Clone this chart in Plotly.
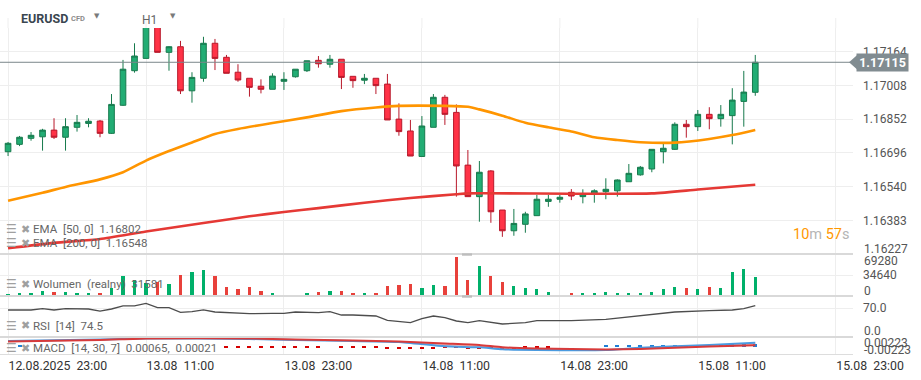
import pandas as pd
import plotly.graph_objects as go
from plotly.subplots import make_subplots

# ---------------- data ----------------
start = pd.Timestamp("2025-08-12 23:00")
n_candles = 66
times = pd.date_range(start, periods=n_candles, freq="h")

opens = [1.16701, 1.16735, 1.16763, 1.16770, 1.16801, 1.16768, 1.16814, 1.16832, 1.16843, 1.16786,
         1.16916, 1.17076, 1.17133, 1.17290, 1.17161, 1.17187, 1.16983, 1.17041, 1.17203, 1.17138,
         1.17069, 1.17041, 1.17004, 1.16990, 1.17027, 1.17048, 1.17076, 1.17124, 1.17106, 1.17129,
         1.17050, 1.17032, 1.17041, 1.17014, 1.16852, 1.16797, 1.16679, 1.16814, 1.16953, 1.16883,
         1.16639, 1.16493, 1.16612, 1.16431, 1.16335, 1.16365, 1.16405, 1.16471, 1.16481, 1.16513,
         1.16493, 1.16508, 1.16516, 1.16520, 1.16562, 1.16594, 1.16621, 1.16701, 1.16712, 1.16828,
         1.16817, 1.16874, 1.16854, 1.16868, 1.16934, 1.16976]
closes = [1.16740, 1.16768, 1.16777, 1.16801, 1.16768, 1.16817, 1.16837, 1.16842, 1.16786, 1.16920,
          1.17083, 1.17144, 1.17290, 1.17161, 1.17187, 1.16983, 1.17045, 1.17203, 1.17133, 1.17064,
          1.17033, 1.16999, 1.16990, 1.17051, 1.17036, 1.17083, 1.17122, 1.17108, 1.17129, 1.17045,
          1.17030, 1.17041, 1.17007, 1.16848, 1.16794, 1.16681, 1.16820, 1.16953, 1.16874, 1.16635,
          1.16493, 1.16606, 1.16423, 1.16335, 1.16369, 1.16413, 1.16481, 1.16481, 1.16490, 1.16496,
          1.16505, 1.16520, 1.16527, 1.16570, 1.16601, 1.16629, 1.16712, 1.16717, 1.16828, 1.16817,
          1.16874, 1.16854, 1.16874, 1.16940, 1.16977, 1.17115]
highs = [1.16746, 1.16774, 1.16792, 1.16807, 1.16856, 1.16856, 1.16871, 1.16856, 1.16848, 1.16968,
         1.17126, 1.17203, 1.17310, 1.17300, 1.17190, 1.17214, 1.17069, 1.17233, 1.17223, 1.17149,
         1.17106, 1.17041, 1.17036, 1.17064, 1.17069, 1.17083, 1.17122, 1.17144, 1.17149, 1.17129,
         1.17050, 1.17061, 1.17041, 1.17061, 1.16925, 1.16848, 1.16866, 1.16968, 1.16964, 1.16920,
         1.16709, 1.16658, 1.16616, 1.16431, 1.16436, 1.16423, 1.16501, 1.16501, 1.16501, 1.16528,
         1.16527, 1.16527, 1.16578, 1.16573, 1.16644, 1.16635, 1.16712, 1.16740, 1.16837, 1.16848,
         1.16894, 1.16907, 1.16917, 1.16995, 1.17075, 1.17149]
lows = [1.16681, 1.16727, 1.16752, 1.16706, 1.16760, 1.16706, 1.16794, 1.16814, 1.16768, 1.16783,
        1.16913, 1.17067, 1.17133, 1.17161, 1.17076, 1.16968, 1.16928, 1.17025, 1.17079, 1.17064,
        1.17025, 1.16956, 1.16971, 1.16990, 1.16987, 1.17044, 1.17070, 1.17090, 1.17090, 1.16991,
        1.16997, 1.17014, 1.16968, 1.16848, 1.16775, 1.16681, 1.16679, 1.16814, 1.16825, 1.16493,
        1.16493, 1.16377, 1.16372, 1.16307, 1.16312, 1.16326, 1.16405, 1.16446, 1.16465, 1.16477,
        1.16462, 1.16465, 1.16481, 1.16493, 1.16562, 1.16590, 1.16606, 1.16647, 1.16709, 1.16766,
        1.16797, 1.16805, 1.16817, 1.16735, 1.16817, 1.16960]

volumes = [800, 1500, 1500, 6200, 4000, 4000, 1500, 1500, 2700, 11000,
           32900, 25800, 19900, 21700, 18600, 34600, 40000, 43500, 32900, 13300,
           9800, 13300, 6200, 2700, 0, 0, 1000, 4400, 6200, 6200,
           2700, 1000, 2700, 15100, 16900, 18600, 11000, 16900, 15100, 67100,
           25800, 50600, 32900, 22200, 15100, 11000, 9200, 4400, 0, 1000,
           1000, 2700, 4400, 2700, 2700, 1000, 4400, 9800, 13300, 11500,
           9800, 13300, 11500, 40000, 45300, 31581]

ema50_idx = [0, 3, 5, 8, 10, 12, 14, 16, 18, 20, 23, 26, 29, 32, 34, 38, 40, 41, 43, 45,
             47, 49, 51, 53, 55, 58, 61, 63, 65]
ema50_val = [1.16474, 1.16511, 1.16538, 1.16573, 1.16606, 1.16660, 1.16704, 1.16744, 1.16783, 1.16806,
             1.16834, 1.16860, 1.16889, 1.16906, 1.16913, 1.16913, 1.16909, 1.16897, 1.16868, 1.16835,
             1.16814, 1.16795, 1.16768, 1.16755, 1.16745, 1.16743, 1.16760, 1.16778, 1.16802]

ema200_idx = [0, 4, 8, 12, 17, 21, 24, 27, 31, 35, 39, 40, 56, 60, 65]
ema200_val = [1.16254, 1.16279, 1.16297, 1.16332, 1.16371, 1.16402, 1.16422, 1.16440, 1.16465, 1.16487,
              1.16504, 1.16508, 1.16508, 1.16526, 1.16548]

rsi_idx = [0, 2, 3, 4, 5, 7, 8, 9, 10, 11, 12, 13, 14, 15, 16, 17, 18, 20, 21, 23,
           24, 25, 27, 28, 29, 30, 32, 33, 35, 36, 37, 38, 39, 40, 41, 43, 45, 46, 49, 52,
           55, 58, 61, 63, 64, 65]
rsi_val = [67.1, 67.1, 69.3, 67.1, 69.3, 68.8, 65.3, 68.8, 74.0, 74.0, 78.6, 71.0, 71.0, 63.1, 64.1,
           67.1, 63.6, 61.4, 60.7, 61.4, 61.4, 63.6, 62.4, 64.1, 58.4, 58.4, 56.7, 49.3, 45.2, 52.1,
           56.7, 53.8, 48.1, 45.2, 48.6, 42.9, 45.2, 48.6, 48.6, 51.0, 56.7, 63.6, 65.9, 67.1, 69.3, 74.5]

macd_idx = [0, 8, 12, 21, 25, 30, 34, 38, 41, 43, 46, 52, 55, 61, 65]
macd_val = [0.00094, 0.00120, 0.00137, 0.00128, 0.00111, 0.00094, 0.00077, 0.00003, -0.00014, -0.00048,
            -0.00060, -0.00060, -0.00021, 0.00026, 0.00065]
signal_val = [0.00085, 0.00111, 0.00137, 0.00137, 0.00120, 0.00103, 0.00085, 0.00051, 0.00026, -0.00014,
              -0.00034, -0.00051, -0.00043, 0.00000, 0.00021]
hist_val = [0, 0.0002, 0, 0, 0, 0, 0, 0, 0, 0,
            0, 0, 0, 0, 0, 0, 0, 0, 0, -0.0002,
            -0.0002, -0.0002, -0.0002, -0.0002, -0.0002, -0.0002, -0.0002, -0.0002, 0, -0.0002,
            -0.0002, -0.0002, -0.0002, -0.0004, -0.0004, -0.0004, -0.0004, -0.0004, -0.0003, -0.0003,
            -0.0004, -0.0004, -0.0004, -0.0004, -0.0004, -0.0003, -0.0003, -0.0003, 0, 0,
            0, 0, 0.0002, 0.0002, 0.0002, 0.0002, 0.0002, 0.0002, 0.0003, 0.0003,
            0.0003, 0.0003, 0.0004, 0.0004, 0.0004, 0.00044]

last_price = 1.17115
price_ticks = [1.17164, 1.17008, 1.16852, 1.16696, 1.16540, 1.16383]
x_tick_times = ["2025-08-12 23:00", "2025-08-13 11:00", "2025-08-13 23:00", "2025-08-14 11:00",
                "2025-08-14 23:00", "2025-08-15 11:00", "2025-08-15 23:00"]
x_tick_text = ["12.08.2025\u00a0\u00a023:00", "13.08\u00a0\u00a011:00", "13.08\u00a0\u00a023:00",
               "14.08\u00a0\u00a011:00", "14.08\u00a0\u00a023:00", "15.08\u00a0\u00a011:00",
               "15.08\u00a0\u00a023:00"]

# ---------------- layout helpers ----------------
W, H = 921, 380
PL, PR, PT, PB = 0, 853, 18, 354      # plot area in pixels


def py(ypx):
    return (PB - ypx) / (PB - PT)


def pxx(xpx):
    return (xpx - PL) / (PR - PL)


FONT = "Roboto, Arial, sans-serif"
GREEN_UP = "#22ad74"
GREEN_LINE = "#177a4d"
RED_DN = "#ff3347"
RED_LINE = "#b8192b"

fig = make_subplots(rows=4, cols=1, shared_xaxes=True, vertical_spacing=0)

fig.add_trace(go.Candlestick(
    x=times, open=opens, high=highs, low=lows, close=closes,
    increasing=dict(line=dict(color=GREEN_LINE, width=1), fillcolor=GREEN_UP),
    decreasing=dict(line=dict(color=RED_LINE, width=1), fillcolor=RED_DN),
    whiskerwidth=0, showlegend=False, hoverinfo="skip"), row=1, col=1)

fig.add_trace(go.Scatter(
    x=[times[i] for i in ema50_idx], y=ema50_val, mode="lines",
    line=dict(color="#ff9500", width=2.6, shape="spline", smoothing=0.6),
    showlegend=False, hoverinfo="skip"), row=1, col=1)
fig.add_trace(go.Scatter(
    x=[times[i] for i in ema200_idx], y=ema200_val, mode="lines",
    line=dict(color="#e53935", width=2.6, shape="spline", smoothing=0.6),
    showlegend=False, hoverinfo="skip"), row=1, col=1)

vol_colors = ["#00b06a" if c >= o else "#e8413b" for o, c in zip(opens, closes)]
fig.add_trace(go.Bar(
    x=times, y=volumes, marker=dict(color=vol_colors, line=dict(width=0)),
    width=0.28 * 3600 * 1000, showlegend=False, hoverinfo="skip"), row=2, col=1)

fig.add_trace(go.Scatter(
    x=[times[i] for i in rsi_idx], y=rsi_val, mode="lines",
    line=dict(color="#4d4d4d", width=1.3), showlegend=False, hoverinfo="skip"), row=3, col=1)

hist_colors = ["#1e7fd6" if v >= 0 else "#d50000" for v in hist_val]
fig.add_trace(go.Bar(
    x=times, y=hist_val, marker=dict(color=hist_colors, line=dict(width=0)),
    width=0.35 * 3600 * 1000, showlegend=False, hoverinfo="skip"), row=4, col=1)
fig.add_trace(go.Scatter(
    x=[times[i] for i in macd_idx], y=macd_val, mode="lines",
    line=dict(color="#4a9be0", width=2, shape="spline", smoothing=0.5),
    showlegend=False, hoverinfo="skip"), row=4, col=1)
fig.add_trace(go.Scatter(
    x=[times[i] for i in macd_idx], y=signal_val, mode="lines",
    line=dict(color="#d83a3a", width=2, shape="spline", smoothing=0.5),
    fill="tonexty", fillcolor="rgba(225,110,110,0.45)",
    showlegend=False, hoverinfo="skip"), row=4, col=1)

# ---------------- axes ----------------
x0 = start - pd.Timedelta(minutes=42)
x1 = start + pd.Timedelta(minutes=int(73.5 * 60))
grid = "#eeeeee"
fig.update_xaxes(range=[x0, x1], type="date", tickvals=x_tick_times, ticktext=x_tick_text,
                 showgrid=True, gridcolor=grid, gridwidth=1, zeroline=False, showline=False,
                 ticks="", showticklabels=False, rangeslider_visible=False)
fig.update_xaxes(showticklabels=True, ticklabelposition="outside right",
                 tickfont=dict(family=FONT, size=12.3, color="#333333"),
                 showline=True, linecolor="#dddddd", linewidth=1, row=4, col=1)

tickfont = dict(family=FONT, size=12, color="#555555")
fig.update_layout(
    yaxis=dict(domain=[py(254), py(28)], range=[1.162275, 1.172737], side="right",
               tickvals=price_ticks, ticktext=[f"{v:.5f}" for v in price_ticks],
               showgrid=True, gridcolor=grid, zeroline=False, ticks="", ticklabelstandoff=9,
               tickfont=tickfont),
    yaxis2=dict(domain=[py(296), py(254)], range=[-2664, 71930], side="right",
                tickvals=[34640], ticktext=["34640"], showgrid=True, gridcolor=grid,
                zeroline=False, ticks="", ticklabelstandoff=9, tickfont=tickfont),
    yaxis3=dict(domain=[py(337), py(296)], range=[20.5, 91.2], side="right",
                tickvals=[70], ticktext=["70.0"], showgrid=True, gridcolor=grid,
                zeroline=False, ticks="", ticklabelstandoff=9, tickfont=tickfont),
    yaxis4=dict(domain=[0, py(337)], range=[-0.00128, 0.00162], side="right",
                showticklabels=False, showgrid=False, zeroline=False, ticks=""),
)

# ---------------- shapes ----------------
shapes = []
# vertical grid continuing into the header strip
for t in x_tick_times:
    shapes.append(dict(type="line", xref="x", yref="paper", x0=t, x1=t, y0=py(28), y1=1,
                       line=dict(color=grid, width=1), layer="below"))
for ysep in (254, 296, 337):
    shapes.append(dict(type="line", xref="paper", yref="paper", x0=0, x1=1,
                       y0=py(ysep), y1=py(ysep), line=dict(color="#d9d9d9", width=2)))
shapes.append(dict(type="line", xref="paper", yref="y", x0=0, x1=1, y0=last_price, y1=last_price,
                   line=dict(color="#7b868a", width=1), layer="above"))
tag_half = 8 * (1.172737 - 1.162275) / 226
shapes.append(dict(type="path", xref="paper", yref="y",
                   path=f"M {pxx(849)},{last_price} L {pxx(858)},{last_price + tag_half} "
                        f"L {pxx(858)},{last_price - tag_half} Z",
                   fillcolor="#818c91", line=dict(width=0), layer="above"))
for ym in (254.5, 296.5):
    shapes.append(dict(type="rect", xref="paper", yref="paper", x0=pxx(462), x1=pxx(472),
                       y0=py(ym + 1.2), y1=py(ym - 1.2), fillcolor="#bdbdbd",
                       line=dict(width=0), layer="above"))
fig.update_layout(shapes=shapes)

# ---------------- annotations ----------------
ann = []


def text(x, y, s, size=11.5, color="#666666", anchor="left", fam=FONT):
    ann.append(dict(xref="paper", yref="paper", x=pxx(x), y=py(y), text=s, showarrow=False,
                    xanchor=anchor, yanchor="middle",
                    font=dict(family=fam, size=size, color=color)))


# header
text(19, 18, "<b>EURUSD</b>", size=12.5, color="#3a4650")
text(69, 19, "<b>CFD</b>", size=7.5, color="#8c8c8c")
text(92, 16, "\u25BC", size=7, color="#7a7a7a", fam="DejaVu Sans")
text(140, 20, "H1", size=12, color="#666666")
text(168, 16, "\u25BC", size=7, color="#7a7a7a", fam="DejaVu Sans")

# legends
for yy, s in ((229.3, "EMA\u00a0\u00a0[50, 0]\u00a0\u00a01.16802"),
              (243.3, "EMA\u00a0\u00a0[200, 0]\u00a0\u00a01.16548"),
              (284.3, "Wolumen\u00a0\u00a0(realny)\u00a0\u00a031581"),
              (325.7, "RSI\u00a0\u00a0[14]\u00a0\u00a074.5"),
              (348.3, "MACD\u00a0\u00a0[14, 30, 7]\u00a0\u00a00.00065,\u00a0\u00a00.00021")):
    text(4, yy, "<b>\u2630</b>", size=12, color="#a0a0a0", fam="DejaVu Sans")
    text(19, yy, "\u2716", size=11, color="#a0a0a0", fam="DejaVu Sans")
    text(31, yy, s, size=11.5, color="#666666")

# clamped axis labels
for yy, s in ((249, "1.16227"), (261, "69280"), (290.7, "0"), (331, "0.0"),
              (342.7, "0.00223"), (350, "-0.00223")):
    text(862, yy, s, size=12, color="#555555")

# countdown
text(851, 235, "<span style='color:#ff9800'>10</span><span style='color:#b5b5b5'>m</span>"
               "\u00a0<span style='color:#ff9800'>57</span><span style='color:#b5b5b5'>s</span>",
     size=14.5, anchor="right")

# price tag
ann.append(dict(xref="paper", yref="y", x=pxx(883), y=last_price, text="<b>1.17115</b>",
                showarrow=False, xanchor="center", yanchor="middle", bgcolor="#818c91",
                borderpad=2, width=47, height=13,
                font=dict(family=FONT, size=12.5, color="#ffffff")))

fig.update_layout(
    annotations=ann,
    width=W, height=H,
    margin=dict(l=PL, r=W - PR, t=PT, b=H - PB),
    paper_bgcolor="white", plot_bgcolor="white",
    bargap=0, showlegend=False, hovermode=False,
    font=dict(family=FONT),
)

fig.write_html("out.html", config={"displayModeBar": False},
               post_script="document.body.style.margin='0';document.body.style.padding='0';")
